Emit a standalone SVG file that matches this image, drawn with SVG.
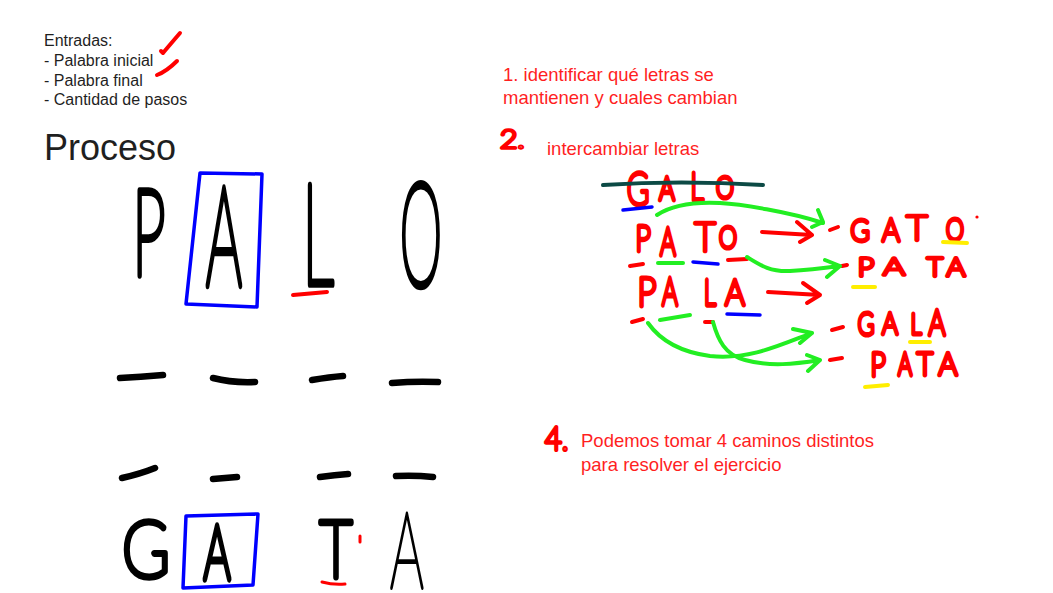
<svg xmlns="http://www.w3.org/2000/svg" width="1053" height="593" viewBox="0 0 1053 593">
<style>
.t{font-family:"Liberation Sans",Arial,sans-serif;}
.k{fill:#1f1f1f;font-size:16px;}
.r{fill:#ff1f1f;font-size:18.5px;}
.h{font-family:Lato,"DejaVu Sans",sans-serif;font-weight:100;text-anchor:middle;stroke-linejoin:round;stroke-linecap:round;vector-effect:non-scaling-stroke;}
.hb{fill:#000;stroke:#000;stroke-width:6;}
.hb3{fill:#000;stroke:#000;stroke-width:3;}
.hr{fill:#f00;stroke:#f00;stroke-width:4.5;}
.m{fill:none;stroke-linecap:round;stroke-linejoin:round;}
.mr{stroke:#f00;stroke-width:4;}
.mg{stroke:#22ee22;stroke-width:4;}
.mb{stroke:#0000ff;stroke-width:3.5;}
.my{stroke:#ffee00;stroke-width:4;}
.mk{stroke:#000;stroke-width:6.5;}
</style>
<rect width="1053" height="593" fill="#fff"/>

<g id="entradas">
<text class="t k" x="44" y="46">Entradas:</text>
<text class="t k" x="44" y="66">- Palabra inicial</text>
<text class="t k" x="44" y="86">- Palabra final</text>
<text class="t k" x="44" y="105">- Cantidad de pasos</text>
<path class="m mr" d="M161,51 L163,53 C168,47 174,40 180,33"/>
<path class="m mr" d="M157,75 C165,72 172,66 177,61"/>
</g>

<g id="proceso">
<text class="t" x="44" y="160" font-size="36" fill="#1f1f1f">Proceso</text>
</g>

<g id="paso1">
<text class="t r" x="503" y="80.5">1. identificar qué letras se</text>
<text class="t r" x="503" y="104">mantienen y cuales cambian</text>
</g>

<g id="paso2">
<text class="h hr" style="text-anchor:start;stroke-width:4" transform="translate(500,148) scale(1.2,1)" font-size="25">2.</text>
<text class="t r" x="547" y="155">intercambiar letras</text>
</g>

<g id="paso4">
<text class="h hr" style="text-anchor:start;stroke-width:4" transform="translate(545,450) scale(0.9,1)" font-size="32">4.</text>
<text class="t r" x="581" y="447">Podemos tomar 4 caminos distintos</text>
<text class="t r" x="581" y="470.5">para resolver el ejercicio</text>
</g>

<g id="palo">
<text class="h hb" transform="translate(149,275) scale(0.485,1)" font-size="121">P</text>
<text class="h hb" transform="translate(224,285) scale(0.41,1)" font-size="137.5">A</text>
<text class="h hb" transform="translate(318,284) scale(0.45,1)" font-size="140">L</text>
<text class="h hb" transform="translate(421,285) scale(0.38,1)" font-size="142">O</text>
<path class="m mb" d="M200,173 L262,174 L257,307 L186,304 Z"/>
<path class="m mr" d="M293,295 L327,292"/>
</g>

<g id="guiones">
<path class="m mk" d="M120,378 Q140,377 163,375 M213,378 Q232,383 255,382 M312,380 Q330,377 343,376 M392,383 Q415,381 438,382"/>
<path class="m mk" d="M122,478 Q140,474 155,468 M213,479 L237,477 M320,477 Q335,475 348,474 M396,476 Q415,475 433,477"/>
</g>

<g id="gata">
<text class="h hb" transform="translate(146,577) scale(0.82,1)" font-size="79">G</text>
<text class="h hb" transform="translate(217,579) scale(0.55,1)" font-size="76">A</text>
<text class="h hb" transform="translate(336,577) scale(0.72,1)" font-size="79">T</text>
<text class="h hb3" transform="translate(407,588) scale(0.5,1)" font-size="106">A</text>
<path class="m mb" d="M186,516 L258,514 L253,585 L183,588 Z"/>
<path class="m mr" style="stroke-width:3" d="M322,582 Q333,585 345,584 M360,536 L360,542"/>
</g>

<g id="galo">
<text class="h hr" transform="translate(638,205) scale(0.68,1)" font-size="45">G</text>
<text class="h hr" transform="translate(667,200) scale(0.74,1)" font-size="32.6">A</text>
<text class="h hr" transform="translate(697,200) scale(0.69,1)" font-size="38">L</text>
<text class="h hr" transform="translate(725,198) scale(0.75,1)" font-size="30.4">O</text>
<path class="m" stroke="#0c4a45" stroke-width="4" d="M603,185 Q680,180 763,185"/>
<path class="m mb" d="M623,210 L652,207"/>
</g>

<g id="pato">
<text class="h hr" transform="translate(643,251) scale(0.74,1)" font-size="36.8">P</text>
<text class="h hr" transform="translate(668,255) scale(0.63,1)" font-size="38.2">A</text>
<text class="h hr" transform="translate(705,251) scale(0.92,1)" font-size="39.6">T</text>
<text class="h hr" transform="translate(728,248) scale(0.75,1)" font-size="30.4">O</text>
<path class="m mr" d="M630,266 L643,264 M728,260 L747,259"/>
<path class="m mg" d="M658,263 L683,263"/>
<path class="m mb" d="M693,262 L718,264"/>
</g>

<g id="gato">
<path class="m mr" d="M830,230 L838,227"/>
<text class="h hr" transform="translate(860,241) scale(0.87,1)" font-size="29.9">G</text>
<text class="h hr" transform="translate(891,241) scale(0.84,1)" font-size="32.6">A</text>
<text class="h hr" transform="translate(917,240) scale(1.08,1)" font-size="34">T</text>
<text class="h hr" transform="translate(955,240) scale(0.75,1)" font-size="30.4">O</text>
<circle cx="977" cy="217" r="1.6" fill="#f00"/>
<path class="m my" d="M943,242 L967,243"/>
</g>

<g id="pata1">
<path class="m mr" d="M842,266 L847,265"/>
<text class="h hr" transform="translate(866,276) scale(1.14,1)" font-size="25.7">P</text>
<text class="h hr" transform="translate(894,275) scale(1.4,1)" font-size="24.3">A</text>
<text class="h hr" transform="translate(935,276) scale(1.08,1)" font-size="25.7">T</text>
<text class="h hr" transform="translate(956,276) scale(1.13,1)" font-size="25.7">A</text>
<path class="m my" d="M853,287 L875,287"/>
</g>

<g id="pala">
<text class="h hr" transform="translate(647,306) scale(0.85,1)" font-size="39.6">P</text>
<text class="h hr" transform="translate(670,305) scale(0.63,1)" font-size="38.2">A</text>
<text class="h hr" transform="translate(710,305) scale(0.67,1)" font-size="35.4">L</text>
<text class="h hr" transform="translate(735,305) scale(0.86,1)" font-size="35.4">A</text>
<path class="m mr" d="M632,322 L643,319 M705,322 L713,322"/>
<path class="m mg" d="M660,320 L690,315"/>
<path class="m mb" d="M727,314 L760,315"/>
</g>

<g id="gala">
<path class="m mr" d="M832,330 L843,327"/>
<text class="h hr" transform="translate(866,335) scale(0.72,1)" font-size="31.25">G</text>
<text class="h hr" transform="translate(890,334) scale(0.81,1)" font-size="29.9">A</text>
<text class="h hr" transform="translate(916,334) scale(0.75,1)" font-size="28.5">L</text>
<text class="h hr" transform="translate(937,335) scale(0.73,1)" font-size="35.4">A</text>
<path class="m my" d="M910,342 L930,342"/>
</g>

<g id="pata2">
<path class="m mr" d="M830,360 L842,358"/>
<text class="h hr" transform="translate(878,376) scale(0.83,1)" font-size="32.6">P</text>
<text class="h hr" transform="translate(905,375) scale(0.68,1)" font-size="31.25">A</text>
<text class="h hr" transform="translate(925,375) scale(0.89,1)" font-size="31.25">T</text>
<text class="h hr" transform="translate(948,375) scale(0.93,1)" font-size="31.25">A</text>
<path class="m my" d="M865,387 L888,385"/>
</g>

<g id="conectores">
<path class="m mg" d="M657,215 C675,203 700,202 720,203 S790,212 823,223 M818,210 L823,222 L812,227"/>
<path class="m mg" d="M747,257 C760,265 770,272 790,271 C810,270 825,268 840,266 M825,260 L840,266 L827,277"/>
<path class="m mg" d="M648,323 C660,340 680,352 710,356 C750,360 780,345 812,333 M793,329 L812,333 L800,343"/>
<path class="m mg" d="M713,322 C718,340 725,355 745,360 C770,367 795,364 820,360 M807,355 L820,360 L808,371"/>
<path class="m mr" d="M762,232 L812,235 M797,222 L812,235 L800,242"/>
<path class="m mr" d="M768,292 L820,295 M803,283 L820,295 L807,303"/>
</g>
</svg>
